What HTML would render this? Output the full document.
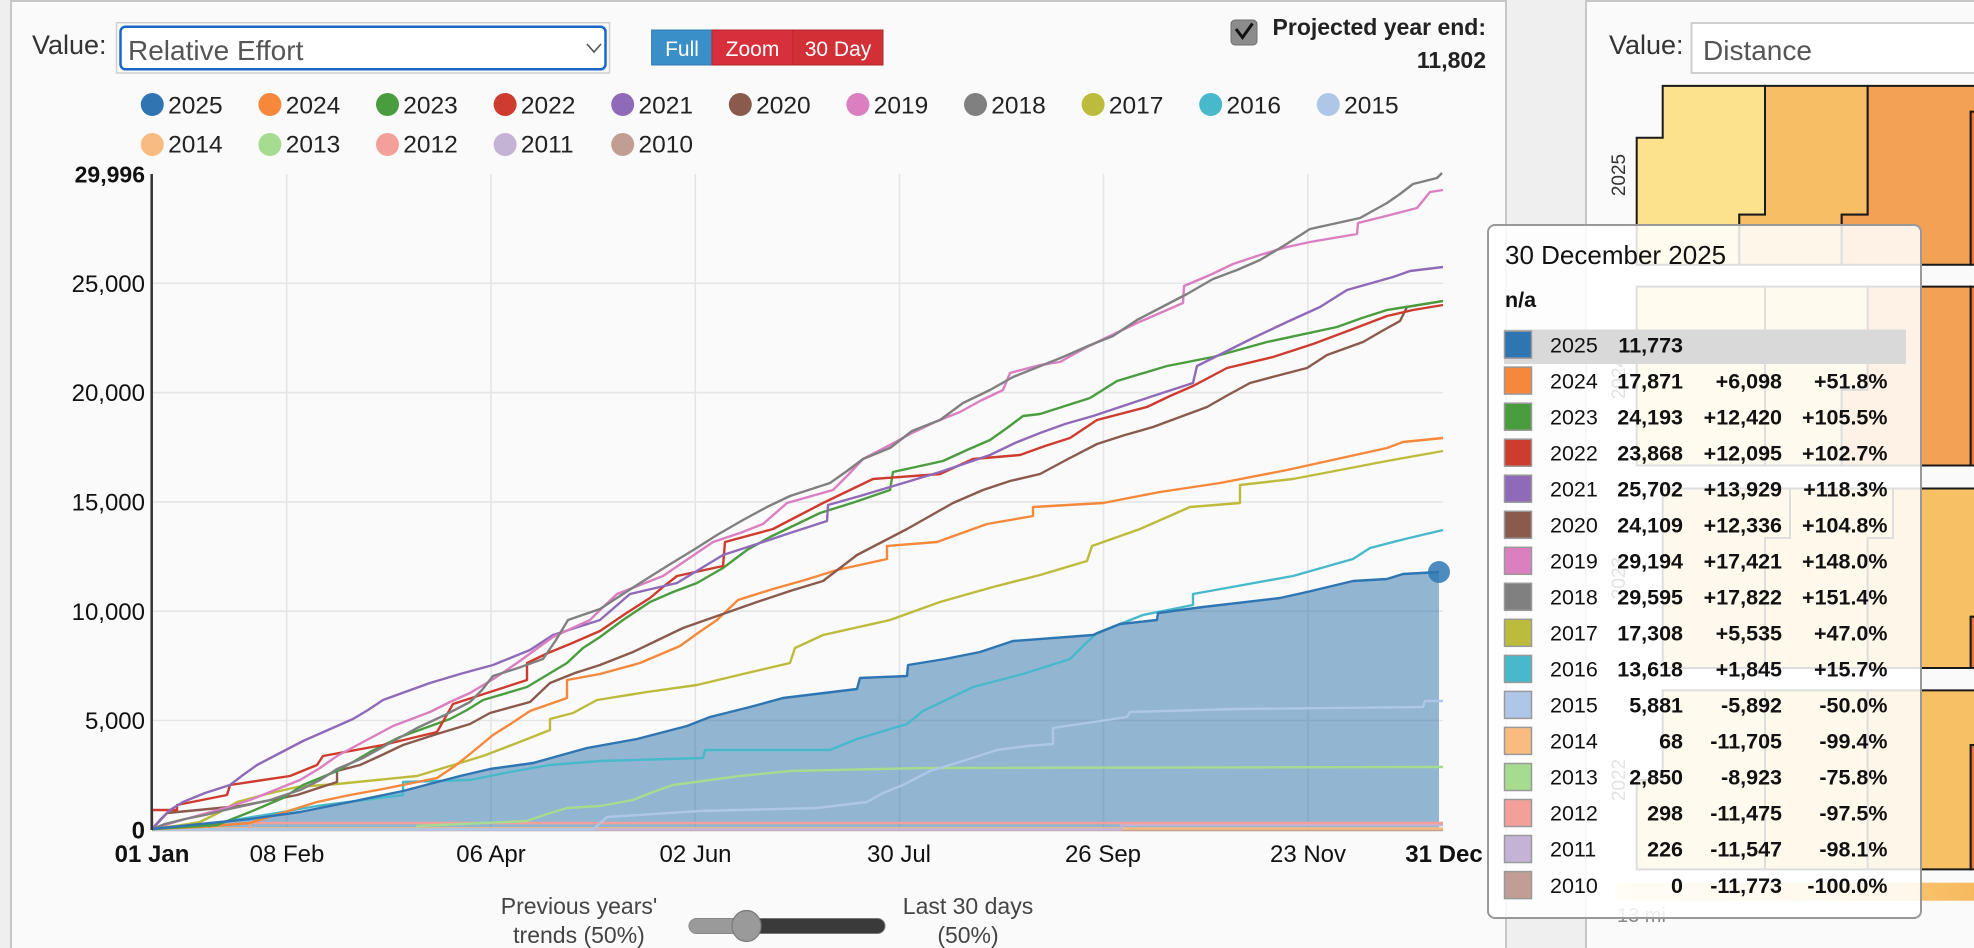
<!DOCTYPE html>
<html>
<head>
<meta charset="utf-8">
<style>
html,body{margin:0;padding:0;background:#efefef;}
svg{display:block;}
text{font-family:"Liberation Sans",Arial,sans-serif;}
</style>
</head>
<body>
<svg width="1974" height="948" viewBox="0 0 1974 948" xmlns="http://www.w3.org/2000/svg">
<defs>
<linearGradient id="bar" x1="0" x2="1" y1="0" y2="0">
<stop offset="0" stop-color="#fdeeb5"/>
<stop offset="1" stop-color="#f7b95e"/>
</linearGradient>
</defs>
<!-- backgrounds -->
<rect x="0" y="0" width="1974" height="948" fill="#efefef"/>
<rect x="11" y="1" width="1495" height="960" fill="#fafafa" stroke="#c6c6c6" stroke-width="2"/>
<rect x="1586" y="1" width="400" height="960" fill="#fafafa" stroke="#c6c6c6" stroke-width="2"/>

<!-- header left -->
<text x="32" y="54" font-size="27" fill="#333">Value:</text>
<rect x="116.5" y="22.7" width="493" height="50.3" fill="none" stroke="#cfcfcf" stroke-width="1.5"/>
<rect x="120.5" y="26.7" width="485" height="42.6" rx="5" fill="#fff" stroke="#1a66c8" stroke-width="2.5"/>
<text x="128" y="60" font-size="28" fill="#555">Relative Effort</text>
<polyline points="587,44 594,52 601,44" fill="none" stroke="#555" stroke-width="1.6"/>

<rect x="651.6" y="30" width="60.4" height="35" fill="#3a8fc8" stroke="#2f7db0" stroke-width="1"/>
<rect x="712" y="30" width="81" height="35" fill="#d8303a" stroke="#b3262d" stroke-width="1"/>
<rect x="793" y="30" width="90" height="35" fill="#d32f37" stroke="#b3262d" stroke-width="1"/>
<text x="682" y="56" font-size="21" fill="#fff" text-anchor="middle">Full</text>
<text x="752.5" y="56" font-size="21" fill="#fff" text-anchor="middle">Zoom</text>
<text x="838" y="56" font-size="21" fill="#fff" text-anchor="middle">30 Day</text>

<rect x="1231" y="20" width="26" height="25" rx="4" fill="#8c8c8c" stroke="#6f6f6f" stroke-width="1"/>
<polyline points="1236,29 1242.5,37.5 1252.5,23.5" fill="none" stroke="#111" stroke-width="3"/>
<text x="1486" y="35" font-size="23" font-weight="bold" fill="#222" text-anchor="end">Projected year end:</text>
<text x="1486" y="68" font-size="23" font-weight="bold" fill="#222" text-anchor="end">11,802</text>

<!-- legend -->
<g font-size="24.5" fill="#222">
<circle cx="152.3" cy="104.5" r="11.5" fill="#2e75b2"/><text x="168.1" y="113.3">2025</text>
<circle cx="269.9" cy="104.5" r="11.5" fill="#f5883a"/><text x="285.7" y="113.3">2024</text>
<circle cx="387.5" cy="104.5" r="11.5" fill="#4a9d3f"/><text x="403.3" y="113.3">2023</text>
<circle cx="505.1" cy="104.5" r="11.5" fill="#ce3b2f"/><text x="520.9" y="113.3">2022</text>
<circle cx="622.7" cy="104.5" r="11.5" fill="#8f6ab8"/><text x="638.5" y="113.3">2021</text>
<circle cx="740.3" cy="104.5" r="11.5" fill="#8a5a4c"/><text x="756.1" y="113.3">2020</text>
<circle cx="857.9" cy="104.5" r="11.5" fill="#da7fc0"/><text x="873.7" y="113.3">2019</text>
<circle cx="975.5" cy="104.5" r="11.5" fill="#808080"/><text x="991.3" y="113.3">2018</text>
<circle cx="1093.1" cy="104.5" r="11.5" fill="#bdbb3c"/><text x="1108.9" y="113.3">2017</text>
<circle cx="1210.7" cy="104.5" r="11.5" fill="#48b9cb"/><text x="1226.5" y="113.3">2016</text>
<circle cx="1328.3" cy="104.5" r="11.5" fill="#aec7e8"/><text x="1344.1" y="113.3">2015</text>
<circle cx="152.3" cy="144.5" r="11.5" fill="#f9bc80"/><text x="168.1" y="152.7">2014</text>
<circle cx="269.9" cy="144.5" r="11.5" fill="#a5dc90"/><text x="285.7" y="152.7">2013</text>
<circle cx="387.5" cy="144.5" r="11.5" fill="#f4a09a"/><text x="403.3" y="152.7">2012</text>
<circle cx="505.1" cy="144.5" r="11.5" fill="#c5b3d6"/><text x="520.9" y="152.7">2011</text>
<circle cx="622.7" cy="144.5" r="11.5" fill="#c29d93"/><text x="638.5" y="152.7">2010</text>
</g>

<!-- gridlines -->
<g stroke="#e5e5e5" stroke-width="1.6">
<line x1="152" y1="720.5" x2="1443" y2="720.5"/>
<line x1="152" y1="611.2" x2="1443" y2="611.2"/>
<line x1="152" y1="501.9" x2="1443" y2="501.9"/>
<line x1="152" y1="392.6" x2="1443" y2="392.6"/>
<line x1="152" y1="283.3" x2="1443" y2="283.3"/>
<line x1="286.7" y1="174" x2="286.7" y2="830"/>
<line x1="491" y1="174" x2="491" y2="830"/>
<line x1="695.3" y1="174" x2="695.3" y2="830"/>
<line x1="899.5" y1="174" x2="899.5" y2="830"/>
<line x1="1103.5" y1="174" x2="1103.5" y2="830"/>
<line x1="1307.8" y1="174" x2="1307.8" y2="830"/>
</g>

<!-- 2025 area -->
<path d="M152 829 L250 819 L300 812 L350 802 L403 791 L460 776 L490 769 L533 763 L587 748 L637 739 L687 726 L710 717 L750 707 L783 698 L857 689 L860 678 L907 676 L908 665 L945 659 L980 652 L1013 641 L1093 635 L1120 624 L1157 620 L1158 613 L1203 607 L1280 598 L1307 592 L1353 581 L1387 579 L1403 574 L1439 572 L1439 830 L152 830 Z" fill="#2a6fa8" fill-opacity="0.5"/>

<!-- series lines -->
<g fill="none" stroke-width="2.4" stroke-linejoin="round">
<path d="M152 830 L1443 830" stroke="#c29d93"/>
<path d="M152 828.5 L1443 828.5" stroke="#f9bc80"/>
<path d="M152 829.5 L1121 829.5 L1121 825 L1443 825" stroke="#c5b3d6"/>
<path d="M152 829.5 L250 829.5 L250 823 L1443 823" stroke="#f4a09a"/>
<path d="M152 829.5 L417 829.5 L417 826 L527 821 L547 814 L567 808 L600 806 L633 800 L653 792 L673 785 L740 776 L790 771 L923 768 L1443 767" stroke="#a5dc90"/>
<path d="M152 829.5 L593 829.5 L607 817 L700 811 L817 808 L867 802 L883 793 L903 785 L930 771 L963 761 L997 750 L1027 746 L1053 744 L1053 728 L1080 724 L1127 717 L1130 712 L1237 709 L1423 707 L1425 701 L1443 701" stroke="#aec7e8"/>
<path d="M152 829 L200 826 L240 819 L277 813 L317 806 L403 795 L403 782 L470 780 L510 772 L550 765 L600 761 L703 758 L705 750 L830 750 L857 739 L907 724 L923 711 L948 699 L973 687 L1023 674 L1070 659 L1083 646 L1097 633 L1143 615 L1193 605 L1193 594 L1243 585 L1293 576 L1353 559 L1370 548 L1405 539 L1443 530" stroke="#48b9cb"/>
<path d="M152 829 L175 826 L200 822 L220 812 L237 802 L267 794 L297 787 L337 784 L417 776 L450 766 L483 756 L517 743 L550 730 L550 719 L573 713 L597 700 L647 692 L697 685 L743 674 L790 663 L795 648 L823 635 L890 620 L915 611 L940 602 L993 587 L1040 575 L1087 561 L1092 546 L1140 529 L1165 518 L1190 507 L1240 503 L1240 485 L1293 479 L1340 470 L1387 461 L1415 456 L1443 451" stroke="#bdbb3c"/>
<path d="M152 829 L200 827 L250 823 L285 812 L317 802 L350 795 L383 789 L437 778 L455 766 L470 754 L493 735 L512 723 L530 711 L567 698 L567 680 L600 674 L640 663 L680 646 L698 633 L717 620 L738 600 L773 589 L805 580 L837 570 L887 559 L887 546 L937 542 L962 533 L987 524 L1033 516 L1033 507 L1103 503 L1160 492 L1220 483 L1287 470 L1337 459 L1387 448 L1403 442 L1443 438" stroke="#f5883a"/>
<path d="M152 829 L167 813 L240 806 L297 795 L337 782 L337 771 L360 765 L382 755 L403 745 L437 734 L470 724 L490 713 L530 702 L550 683 L575 673 L600 665 L633 652 L658 640 L683 628 L720 615 L757 602 L790 591 L823 581 L840 568 L857 555 L882 542 L907 529 L930 516 L953 503 L983 490 L1010 481 L1040 474 L1068 459 L1097 444 L1125 435 L1153 427 L1180 417 L1207 407 L1228 395 L1250 383 L1280 375 L1307 368 L1327 355 L1363 342 L1382 331 L1400 321 L1407 307 L1443 301" stroke="#8a5a4c"/>
<path d="M152 829 L217 825 L250 812 L283 798 L303 785 L337 771 L353 762 L370 752 L400 737 L450 719 L467 710 L483 700 L527 687 L547 675 L567 663 L583 648 L600 637 L623 620 L650 602 L673 592 L697 583 L723 568 L747 550 L770 537 L795 525 L820 513 L855 502 L890 490 L893 472 L943 461 L967 450 L990 440 L1007 428 L1023 416 L1040 414 L1090 398 L1117 381 L1167 366 L1213 357 L1267 342 L1337 327 L1362 318 L1387 310 L1443 301" stroke="#4a9d3f"/>
<path d="M152 829 L152 810 L177 810 L177 805 L227 795 L230 785 L290 776 L317 765 L323 756 L383 745 L437 732 L445 718 L453 704 L490 692 L527 680 L527 663 L548 653 L570 644 L600 631 L625 614 L650 598 L663 587 L677 576 L723 566 L725 542 L773 529 L798 516 L823 503 L848 491 L873 479 L940 474 L973 459 L1020 455 L1045 446 L1070 438 L1097 420 L1147 407 L1170 396 L1193 386 L1227 368 L1273 357 L1313 344 L1353 329 L1387 316 L1413 310 L1443 305" stroke="#ce3b2f"/>
<path d="M152 829 L160 820 L170 810 L183 802 L205 793 L230 785 L243 775 L257 765 L280 753 L303 741 L328 730 L353 719 L368 710 L383 700 L405 692 L430 683 L460 674 L493 665 L530 650 L553 635 L600 620 L615 607 L630 594 L677 583 L700 569 L723 555 L757 544 L790 533 L827 521 L828 505 L860 496 L890 487 L940 472 L990 455 L1015 443 L1040 433 L1065 424 L1093 416 L1123 406 L1153 396 L1193 383 L1197 366 L1225 352 L1253 338 L1287 322 L1320 307 L1347 290 L1393 277 L1410 271 L1443 267" stroke="#8f6ab8"/>
<path d="M152 829 L175 822 L200 815 L225 808 L250 800 L275 790 L300 780 L320 768 L337 756 L365 741 L393 726 L430 712 L450 702 L470 693 L495 678 L517 663 L535 650 L553 637 L590 620 L600 610 L617 594 L640 585 L663 576 L688 559 L713 542 L740 533 L763 524 L787 503 L833 490 L848 475 L863 459 L888 446 L912 433 L935 422 L960 412 L980 401 L1003 390 L1010 373 L1040 365 L1060 362 L1087 347 L1112 335 L1137 323 L1160 313 L1183 303 L1184 286 L1210 275 L1233 264 L1260 255 L1287 247 L1310 242 L1357 234 L1358 223 L1390 215 L1417 208 L1430 192 L1443 190" stroke="#da7fc0"/>
<path d="M152 829 L165 824 L185 819 L205 815 L225 810 L243 806 L270 800 L300 790 L320 780 L337 769 L363 758 L390 743 L417 728 L445 715 L470 702 L482 690 L493 676 L518 668 L543 659 L556 640 L568 620 L600 609 L623 594 L648 578 L672 563 L695 549 L717 535 L743 520 L767 507 L790 496 L830 483 L847 471 L863 459 L890 448 L912 431 L940 420 L963 403 L990 390 L1013 377 L1038 367 L1063 357 L1088 346 L1113 336 L1137 320 L1162 307 L1187 294 L1213 279 L1237 270 L1260 260 L1285 245 L1310 229 L1360 218 L1387 203 L1400 194 L1413 184 L1437 178 L1442 173" stroke="#808080"/>
<path d="M152 829 L250 819 L300 812 L350 802 L403 791 L460 776 L490 769 L533 763 L587 748 L637 739 L687 726 L710 717 L750 707 L783 698 L857 689 L860 678 L907 676 L908 665 L945 659 L980 652 L1013 641 L1093 635 L1120 624 L1157 620 L1158 613 L1203 607 L1280 598 L1307 592 L1353 581 L1387 579 L1403 574 L1439 572" stroke="#2e75b2"/>
</g>
<circle cx="1439" cy="572" r="11" fill="#2f78b4" fill-opacity="0.85"/>

<!-- y axis -->
<line x1="151.7" y1="174" x2="151.7" y2="830" stroke="#333" stroke-width="2.5"/>
<g font-size="24" fill="#111" text-anchor="end">
<text x="145" y="182.5" font-weight="bold" font-size="23">29,996</text>
<text x="145" y="291.9">25,000</text>
<text x="145" y="401.2">20,000</text>
<text x="145" y="510.5">15,000</text>
<text x="145" y="619.8">10,000</text>
<text x="145" y="729.1">5,000</text>
<text x="145" y="838.4" font-weight="bold">0</text>
</g>
<!-- x axis labels -->
<g font-size="24" fill="#111" text-anchor="middle">
<text x="152" y="862" font-weight="bold">01 Jan</text>
<text x="287" y="862">08 Feb</text>
<text x="491" y="862">06 Apr</text>
<text x="695.5" y="862">02 Jun</text>
<text x="899" y="862">30 Jul</text>
<text x="1103" y="862">26 Sep</text>
<text x="1308" y="862">23 Nov</text>
<text x="1444" y="862" font-weight="bold">31 Dec</text>
</g>

<!-- slider -->
<g font-size="23" fill="#444" text-anchor="middle">
<text x="579" y="914">Previous years'</text>
<text x="579" y="943">trends (50%)</text>
<text x="968" y="914">Last 30 days</text>
<text x="968" y="943">(50%)</text>
</g>
<rect x="689" y="918.5" width="196" height="15" rx="7.5" fill="#3a3a3a" stroke="#777" stroke-width="1"/>
<rect x="689" y="918.5" width="58" height="15" rx="7.5" fill="#9a9a9a"/>
<ellipse cx="746.5" cy="926" rx="14.5" ry="15.5" fill="#9a9a9a" stroke="#7a7a7a" stroke-width="1.2"/>

<!-- right panel -->
<text x="1609" y="54" font-size="27" fill="#333">Value:</text>
<rect x="1691.5" y="23" width="300" height="50" fill="#fff" stroke="#cfcfcf" stroke-width="2"/>
<text x="1703" y="60" font-size="28" fill="#555">Distance</text>

<g stroke="#1a1a1a" stroke-width="2">
<path d="M1662.7 85.9 H1765 V214.6 H1739.3 V264.8 H1636.7 V137.8 H1662.7 Z" fill="#fce28c"/>
<path d="M1765 85.9 H1867.7 V214.6 H1841.7 V264.8 H1739.3 V214.6 H1765 Z" fill="#f8be65"/>
<path d="M1867.7 85.9 H1976 V111.8 H1970.7 V264.8 H1841.7 V214.6 H1867.7 Z" fill="#f3a155"/>
<path d="M1970.7 111.8 H1976 V264.8 H1970.7 Z" fill="#e8753b"/>
<path d="M1636.7 286.6 H1765 V465.5 H1636.7 Z" fill="#fce28c"/>
<path d="M1765 286.6 H1867.7 V390 H1841.7 V465.5 H1765 Z" fill="#fbd88a"/>
<path d="M1867.7 286.6 H1970.7 V465.5 H1841.7 V390 H1867.7 Z" fill="#f3a155"/>
<path d="M1970.7 286.6 H1976 V465.5 H1970.7 Z" fill="#e8753b"/>
<path d="M1662.7 488.5 H1790 V538 H1765 V668 H1662.7 Z" fill="#fbd580"/>
<path d="M1790 488.5 H1893 V538 H1867.7 V668 H1765 V538 H1790 Z" fill="#fbd07a"/>
<path d="M1893 488.5 H1976 V616.7 H1970.7 V668 H1867.7 V538 H1893 Z" fill="#f8c064"/>
<path d="M1970.7 616.7 H1976 V668 H1970.7 Z" fill="#e8753b"/>
<path d="M1662.7 690.4 H1765 V869.4 H1636.7 V780 H1662.7 Z" fill="#fcdc85"/>
<path d="M1765 690.4 H1867.7 V869.4 H1765 Z" fill="#fbd27c"/>
<path d="M1867.7 690.4 H1976 V745 H1970.7 V869.4 H1867.7 Z" fill="#f8c064"/>
<path d="M1970.7 745 H1976 V869.4 H1970.7 Z" fill="#e8753b"/>
</g>
<rect x="1615" y="882.7" width="360" height="18" fill="url(#bar)"/>
<text x="1617" y="922" font-size="20" fill="#888">13 mi</text>
<g font-size="19" fill="#333" text-anchor="middle">
<text transform="translate(1625,175) rotate(-90)">2025</text>
<text transform="translate(1625,378) rotate(-90)">2024</text>
<text transform="translate(1625,578) rotate(-90)">2023</text>
<text transform="translate(1625,780) rotate(-90)">2022</text>
</g>

<!-- tooltip -->
<rect x="1488" y="225" width="433" height="693" rx="7" fill="#ffffff" fill-opacity="0.86" stroke="#999" stroke-width="2"/>
<text x="1505" y="264" font-size="26" fill="#111">30 December 2025</text>
<text x="1505" y="307" font-size="21.5" font-weight="bold" fill="#111">n/a</text>
<rect x="1504" y="329.5" width="402" height="34.5" fill="#d9d9d9"/>
<g stroke="#999" stroke-width="1.5">
<rect x="1504.5" y="331.1" width="27" height="27" fill="#2e75b2"/>
<rect x="1504.5" y="367.1" width="27" height="27" fill="#f5883a"/>
<rect x="1504.5" y="403.2" width="27" height="27" fill="#4a9d3f"/>
<rect x="1504.5" y="439.2" width="27" height="27" fill="#ce3b2f"/>
<rect x="1504.5" y="475.2" width="27" height="27" fill="#8f6ab8"/>
<rect x="1504.5" y="511.3" width="27" height="27" fill="#8a5a4c"/>
<rect x="1504.5" y="547.3" width="27" height="27" fill="#da7fc0"/>
<rect x="1504.5" y="583.3" width="27" height="27" fill="#808080"/>
<rect x="1504.5" y="619.3" width="27" height="27" fill="#bdbb3c"/>
<rect x="1504.5" y="655.4" width="27" height="27" fill="#48b9cb"/>
<rect x="1504.5" y="691.4" width="27" height="27" fill="#aec7e8"/>
<rect x="1504.5" y="727.4" width="27" height="27" fill="#f9bc80"/>
<rect x="1504.5" y="763.5" width="27" height="27" fill="#a5dc90"/>
<rect x="1504.5" y="799.5" width="27" height="27" fill="#f4a09a"/>
<rect x="1504.5" y="835.5" width="27" height="27" fill="#c5b3d6"/>
<rect x="1504.5" y="871.6" width="27" height="27" fill="#c29d93"/>
</g>
<g font-size="21.5" fill="#111">
<text x="1550" y="352.3">2025</text>
<text x="1550" y="388.3">2024</text>
<text x="1550" y="424.4">2023</text>
<text x="1550" y="460.4">2022</text>
<text x="1550" y="496.4">2021</text>
<text x="1550" y="532.5">2020</text>
<text x="1550" y="568.5">2019</text>
<text x="1550" y="604.5">2018</text>
<text x="1550" y="640.5">2017</text>
<text x="1550" y="676.6">2016</text>
<text x="1550" y="712.6">2015</text>
<text x="1550" y="748.6">2014</text>
<text x="1550" y="784.7">2013</text>
<text x="1550" y="820.7">2012</text>
<text x="1550" y="856.7">2011</text>
<text x="1550" y="892.8">2010</text>
</g>
<g font-size="21.5" font-weight="bold" fill="#111" text-anchor="end">
<text x="1683" y="352.3">11,773</text>
<text x="1683" y="388.3">17,871</text><text x="1782" y="388.3">+6,098</text><text x="1887.5" y="388.3">+51.8%</text>
<text x="1683" y="424.4">24,193</text><text x="1782" y="424.4">+12,420</text><text x="1887.5" y="424.4">+105.5%</text>
<text x="1683" y="460.4">23,868</text><text x="1782" y="460.4">+12,095</text><text x="1887.5" y="460.4">+102.7%</text>
<text x="1683" y="496.4">25,702</text><text x="1782" y="496.4">+13,929</text><text x="1887.5" y="496.4">+118.3%</text>
<text x="1683" y="532.5">24,109</text><text x="1782" y="532.5">+12,336</text><text x="1887.5" y="532.5">+104.8%</text>
<text x="1683" y="568.5">29,194</text><text x="1782" y="568.5">+17,421</text><text x="1887.5" y="568.5">+148.0%</text>
<text x="1683" y="604.5">29,595</text><text x="1782" y="604.5">+17,822</text><text x="1887.5" y="604.5">+151.4%</text>
<text x="1683" y="640.5">17,308</text><text x="1782" y="640.5">+5,535</text><text x="1887.5" y="640.5">+47.0%</text>
<text x="1683" y="676.6">13,618</text><text x="1782" y="676.6">+1,845</text><text x="1887.5" y="676.6">+15.7%</text>
<text x="1683" y="712.6">5,881</text><text x="1782" y="712.6">-5,892</text><text x="1887.5" y="712.6">-50.0%</text>
<text x="1683" y="748.6">68</text><text x="1782" y="748.6">-11,705</text><text x="1887.5" y="748.6">-99.4%</text>
<text x="1683" y="784.7">2,850</text><text x="1782" y="784.7">-8,923</text><text x="1887.5" y="784.7">-75.8%</text>
<text x="1683" y="820.7">298</text><text x="1782" y="820.7">-11,475</text><text x="1887.5" y="820.7">-97.5%</text>
<text x="1683" y="856.7">226</text><text x="1782" y="856.7">-11,547</text><text x="1887.5" y="856.7">-98.1%</text>
<text x="1683" y="892.8">0</text><text x="1782" y="892.8">-11,773</text><text x="1887.5" y="892.8">-100.0%</text>
</g>
</svg>
</body>
</html>
